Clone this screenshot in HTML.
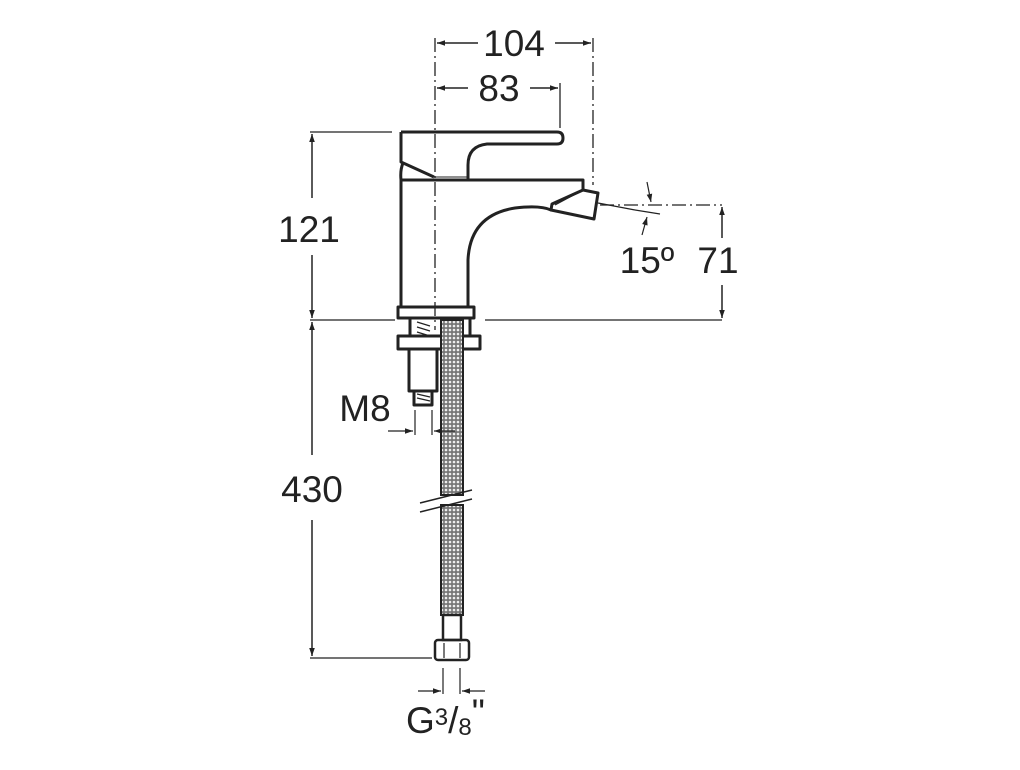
<!DOCTYPE html>
<html><head><meta charset="utf-8"><style>
html,body{margin:0;padding:0;background:#fff;}
svg{display:block;}
text{font-family:"Liberation Sans",sans-serif;fill:#222;}
</style></head><body>
<svg width="1020" height="770" viewBox="0 0 1020 770" xmlns="http://www.w3.org/2000/svg">
<defs>
<pattern id="mesh" width="4" height="4" patternUnits="userSpaceOnUse">
<rect width="4" height="4" fill="#777"/><circle cx="2" cy="2" r="1.3" fill="#eee"/>
</pattern>
<marker id="ar" viewBox="0 0 10 10" refX="10" refY="5" markerWidth="13" markerHeight="8" orient="auto-start-reverse" markerUnits="userSpaceOnUse"><path d="M0,1.5 L10,5 L0,8.5 z" fill="#222"/></marker>
</defs>
<g stroke="#222" fill="none">
<g stroke-width="1.3" stroke-dasharray="14,4,2,4">
<line x1="435" y1="38" x2="435" y2="330"/>
<line x1="593" y1="38" x2="593" y2="185"/>
<line x1="600" y1="205" x2="722" y2="205"/>
</g>
<line x1="560" y1="83" x2="560" y2="128" stroke-width="1.3"/>
<line x1="437" y1="43" x2="478" y2="43" stroke-width="1.5" marker-start="url(#ar)"/>
<line x1="555" y1="43" x2="591" y2="43" stroke-width="1.5" marker-end="url(#ar)"/>
<line x1="437" y1="88" x2="468" y2="88" stroke-width="1.5" marker-start="url(#ar)"/>
<line x1="530" y1="88" x2="558" y2="88" stroke-width="1.5" marker-end="url(#ar)"/>
<line x1="310" y1="132" x2="392" y2="132" stroke-width="1.3"/>
<line x1="310" y1="320" x2="395" y2="320" stroke-width="1.3"/>
<line x1="485" y1="320" x2="722" y2="320" stroke-width="1.3"/>
<line x1="310" y1="658" x2="432" y2="658" stroke-width="1.3"/>
<line x1="312" y1="198" x2="312" y2="134" stroke-width="1.5" marker-end="url(#ar)"/>
<line x1="312" y1="255" x2="312" y2="318" stroke-width="1.5" marker-end="url(#ar)"/>
<line x1="312" y1="455" x2="312" y2="322" stroke-width="1.5" marker-end="url(#ar)"/>
<line x1="312" y1="520" x2="312" y2="656" stroke-width="1.5" marker-end="url(#ar)"/>
<line x1="722" y1="238" x2="722" y2="207" stroke-width="1.5" marker-end="url(#ar)"/>
<line x1="722" y1="285" x2="722" y2="318" stroke-width="1.5" marker-end="url(#ar)"/>
<line x1="598" y1="203" x2="635" y2="210" stroke-width="1.2"/>
<line x1="635" y1="210" x2="660" y2="214" stroke-width="1.2"/>
<line x1="647" y1="182" x2="651" y2="202" stroke-width="1.2" marker-end="url(#ar)"/>
<line x1="642" y1="235" x2="647" y2="217" stroke-width="1.2" marker-end="url(#ar)"/>
<g stroke-width="3" stroke-linejoin="round">
<path d="M401,132 H557 Q563,132 563,138 Q563,144 557,144 H487 Q468,146 468,165 V180"/>
<path d="M401,132 V162 L434,177"/>
<path d="M403,163 Q400,170 401,180 V307"/>
<path d="M401,180 H583 V190"/>
<path d="M583,190 L598,193 L594,219 L551,210 L552,204 Z"/>
<path d="M551,210 Q540,205 515,208 Q470,215 468,260 V307"/>
<rect x="398" y="307" width="76" height="11"/>
<path d="M410,318 V336 M470,318 V336"/>
<rect x="398" y="336" width="82" height="13"/>
<rect x="409" y="349" width="28" height="42"/>
<rect x="414" y="391" width="18" height="14"/>
</g>
<line x1="402" y1="180" x2="468" y2="180" stroke-width="1.5"/>
<line x1="434" y1="177" x2="468" y2="177" stroke-width="1"/>
<line x1="555" y1="205" x2="583" y2="190" stroke-width="1.2"/>
<g stroke-width="1.2"><path d="M417,322 L430,326 M417,327 L430,331 M417,332 L430,336 M417,394 L430,397 M417,398 L430,401"/></g>
<rect x="441" y="320" width="22" height="175" fill="url(#mesh)" stroke-width="2"/>
<rect x="441" y="505" width="22" height="110" fill="url(#mesh)" stroke-width="2"/>
<path d="M420,503 L472,490 M420,512 L472,499" stroke-width="1.5"/>
<rect x="443" y="615" width="18" height="25" stroke-width="2.5"/>
<rect x="435" y="640" width="34" height="20" rx="3" stroke-width="2.5"/>
<line x1="444" y1="643" x2="444" y2="658" stroke-width="1.2"/><line x1="460" y1="643" x2="460" y2="658" stroke-width="1.2"/>
<line x1="415" y1="410" x2="415" y2="435" stroke-width="1.2"/>
<line x1="432" y1="410" x2="432" y2="435" stroke-width="1.2"/>
<line x1="388" y1="431" x2="413" y2="431" stroke-width="1.3" marker-end="url(#ar)"/>
<line x1="455" y1="431" x2="434" y2="431" stroke-width="1.3" marker-end="url(#ar)"/>
<line x1="443" y1="668" x2="443" y2="694" stroke-width="1.2"/>
<line x1="460" y1="668" x2="460" y2="694" stroke-width="1.2"/>
<line x1="418" y1="691" x2="441" y2="691" stroke-width="1.3" marker-end="url(#ar)"/>
<line x1="485" y1="691" x2="462" y2="691" stroke-width="1.3" marker-end="url(#ar)"/>
</g>
<g font-size="37">
<text x="514" y="56" text-anchor="middle">104</text>
<text x="499" y="101" text-anchor="middle">83</text>
<text x="309" y="242" text-anchor="middle">121</text>
<text x="312" y="502" text-anchor="middle">430</text>
<text x="647" y="273" text-anchor="middle">15º</text>
<text x="718" y="273" text-anchor="middle">71</text>
<text x="365" y="421" text-anchor="middle">M8</text>
<text x="406" y="733">G<tspan font-size="24" dy="-8">3</tspan><tspan dy="8">/</tspan><tspan font-size="24" dy="2">8</tspan><tspan dy="-10">"</tspan></text>
</g>
</svg>
</body></html>
